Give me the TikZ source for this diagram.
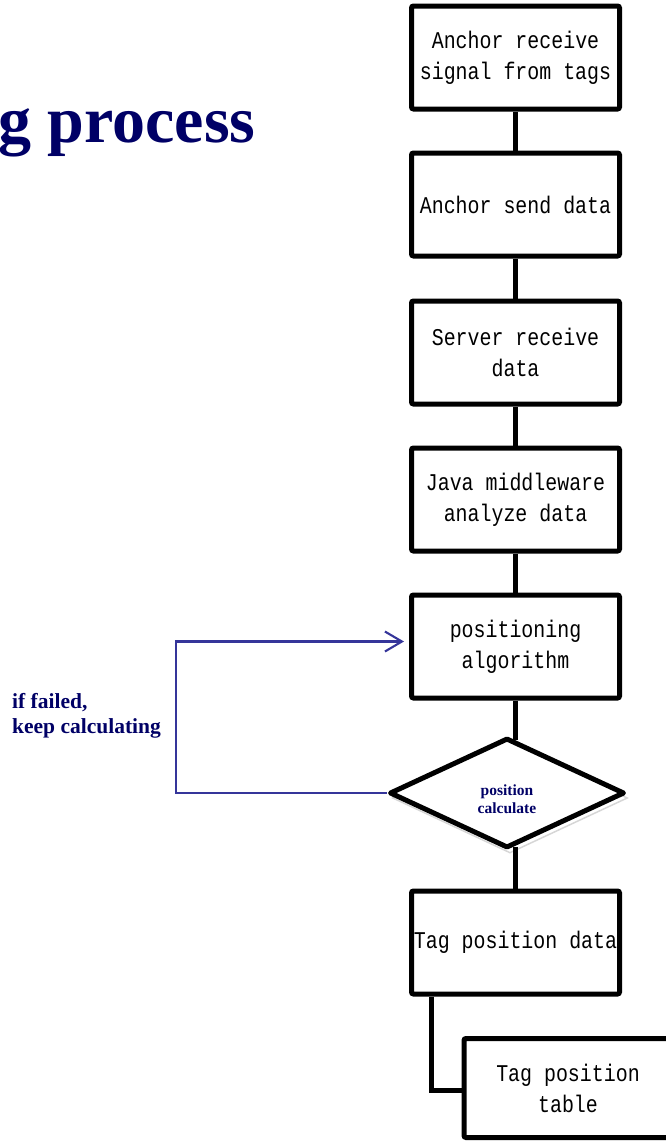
\documentclass[tikz,border=0pt]{standalone}
\usepackage{fontspec}
\setmainfont{Liberation Serif}
\newfontfamily\boxfont[FakeStretch=0.83]{Liberation Mono}
\usetikzlibrary{shapes.geometric,arrows.meta}
\definecolor{navytext}{HTML}{000066}
\definecolor{loopblue}{HTML}{35359A}
\definecolor{shadowgray}{HTML}{D6D6D6}
\tikzset{
  % --- process boxes ---
  flowbox/.style={draw=black, line width=5pt, rounded corners=2pt, fill=white,
                  align=center, minimum width=208pt, minimum height=103pt,
                  inner sep=1pt, font=\boxfont\fontsize{24}{31}\selectfont},
  % --- decision ---
  flowdec/.style={diamond, draw=black, line width=5pt, line join=round, fill=white,
                  aspect=2.14, minimum width=235pt, minimum height=110pt, inner sep=0pt},
  dectext/.style={align=center, inner sep=0pt, text=navytext,
                  font=\bfseries\fontsize{15.5}{18.5}\selectfont},
  decshade/.style={diamond, draw=shadowgray, line width=1.5pt, aspect=2.14,
                   minimum width=235pt, minimum height=110pt, inner sep=0pt},
  % --- connectors ---
  flowconn/.style={draw=black, line width=5pt},
  loopline/.style={draw=loopblue, line width=2.1pt},
  looparrow/.style={loopline, -{Straight Barb[length=17pt,width=20pt,line width=2.1pt]}},
  notetext/.style={text=navytext, inner sep=0pt, font=\bfseries},
}

\begin{document}
\begin{tikzpicture}[x=1pt, y=-1pt]
  \useasboundingbox (0,0) rectangle (665,1143);

  % --- heading (cut off at the left edge) ---
  \node[notetext, anchor=base west, font=\bfseries\fontsize{66}{66}\selectfont]
        (title) at (-2,142) {g process};

  % --- main column of steps ---
  \node[flowbox] (anchrx)   at (515.5, 57.5)  {Anchor receive\\signal from tags};
  \node[flowbox] (anchsend) at (515.5, 204.5) {Anchor send data};
  \node[flowbox] (srvrx)    at (515.5, 352.5) {Server receive\\data};
  \node[flowbox] (javamw)   at (515.5, 499.5) {Java middleware\\analyze data};
  \node[flowbox] (alg)      at (515.5, 646.5) {positioning\\algorithm};

  % decision with its faint shadow
  \node[decshade] (decshadow) at (510, 798) {};
  \node[flowdec]  (dec) at (507, 793) {};
  \node[dectext] (declabel) at ([yshift=-6pt]dec.center) {position\\calculate};

  \node[flowbox] (tagd) at (515.5, 942.5) {Tag position data};
  \node[flowbox, minimum height=99pt] (tbl) at (568, 1088) {Tag position\\table};

  % --- connectors down the column ---
  \draw[flowconn] (anchrx) -- (anchsend);
  \draw[flowconn] (anchsend) -- (srvrx);
  \draw[flowconn] (srvrx) -- (javamw);
  \draw[flowconn] (javamw) -- (alg);
  \draw[flowconn] (alg.south) -- ([yshift=-4pt]alg.south |- dec.north);
  \draw[flowconn] ([yshift=4pt]dec.south -| tagd.north) -- (tagd.north);
  \draw[flowconn] ([xshift=22pt]tagd.south west) |- ([yshift=-2pt]tbl.west);

  % --- retry loop on the left ---
  \coordinate (fbk) at (176, 0);
  \draw[looparrow, shorten >=5pt] (dec.west) -- (dec.west -| fbk)
        |- ([yshift=5pt]alg.west);
  \node[notetext, anchor=north west, align=left, font=\bfseries\fontsize{21.5}{25}\selectfont]
        (note) at (12, 693) {if failed,\\keep calculating};
\end{tikzpicture}
\end{document}
